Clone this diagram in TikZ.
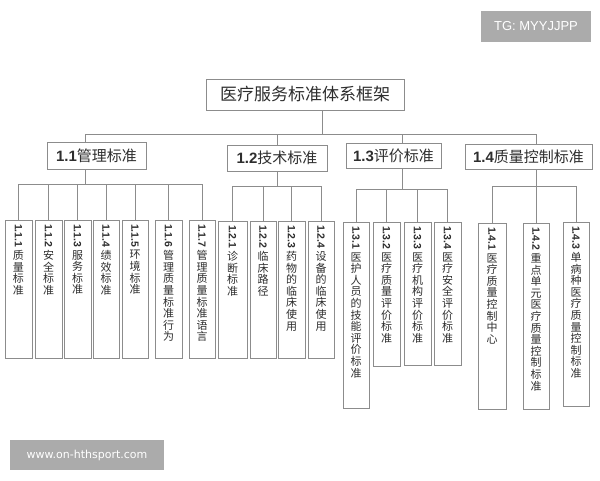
\documentclass[tikz,border=0pt]{standalone}
\usepackage{fontspec}
\usepackage{graphicx}
\setmainfont{Liberation Sans}
\newfontfamily\cjk{Noto Sans CJK SC}
\newfontfamily\wmfont{DejaVu Sans}
\definecolor{txt}{HTML}{2E2E2E}
\definecolor{ln}{HTML}{8C8C8C}
\definecolor{wmgray}{HTML}{ABABAB}
\tikzset{
  conn/.style={draw=ln, line width=0.9pt},
  titlebox/.style={draw=ln, line width=0.9pt, fill=white, text=txt, inner sep=0pt, font=\cjk\fontsize{17}{17}\selectfont},
  midbox/.style={draw=ln, line width=0.9pt, fill=white, text=txt, inner sep=0pt, font=\fontsize{15}{15}\selectfont},
  leafbox/.style={draw=ln, line width=0.9pt, fill=white, text=txt, inner sep=0pt},
  wmbox/.style={fill=wmgray, text=white, inner sep=0pt}
}
\newcommand\leaffont{\fontsize{11}{11.6}\selectfont}
\newcommand\leafnode[7]{%
  \pgfmathsetmacro\lw{#3-#2}\pgfmathsetmacro\lh{#5-#4}%
  \pgfmathsetmacro\lx{(#2+#3)/2}\pgfmathsetmacro\ly{(#4+#5)/2}%
  \node[leafbox] (#1) at (\lx,\ly) {\parbox[c][\lh pt][t]{\lw pt}{\centering\leaffont
    \rule{0pt}{4pt}\rotatebox{-90}{\fontsize{10.5}{11}\selectfont\bfseries #6}\par\vspace{2pt}\cjk #7\par}};}
\begin{document}
\begin{tikzpicture}[x=1pt,y=-1pt]
\useasboundingbox (0,0) rectangle (600,480);
\fill[white] (0,0) rectangle (600,480);
% watermarks
\node[wmbox, minimum width=110pt, minimum height=31pt, font=\fontsize{13}{13}\selectfont] (tg) at (536,26) {TG: MYYJJPP};
\node[wmbox, minimum width=154pt, minimum height=30pt, font=\wmfont\fontsize{11}{11}\selectfont] (url) at (87,455) {www.on-hthsport.com};
% title
\node[titlebox, minimum width=198pt, minimum height=31pt] (root) at (305,94.5) {医疗服务标准体系框架};
% level 2
\node[midbox, minimum width=99pt, minimum height=27pt] (m1) at (96.5,155.5) {\bfseries 1.1\cjk\mdseries 管理标准};
\node[midbox, minimum width=100pt, minimum height=26pt] (m2) at (277,158) {\bfseries 1.2\cjk\mdseries 技术标准};
\node[midbox, minimum width=95pt, minimum height=25pt] (m3) at (393.5,155.5) {\bfseries 1.3\cjk\mdseries 评价标准};
\node[midbox, minimum width=127pt, minimum height=25pt] (m4) at (528.5,156.5) {\bfseries 1.4\cjk\mdseries 质量控制标准};
% leaves
\leafnode{a1}{5}{32}{220}{358}{1.1.1}{质\\量\\标\\准}
\leafnode{a2}{35}{62}{220}{358}{1.1.2}{安\\全\\标\\准}
\leafnode{a3}{64}{91}{220}{358}{1.1.3}{服\\务\\标\\准}
\leafnode{a4}{93}{119}{220}{358}{1.1.4}{绩\\效\\标\\准}
\leafnode{a5}{122}{148}{220}{358}{1.1.5}{环\\境\\标\\准}
\leafnode{a6}{155}{182}{220}{358}{1.1.6}{管\\理\\质\\量\\标\\准\\行\\为}
\leafnode{a7}{189}{215}{220}{358}{1.1.7}{管\\理\\质\\量\\标\\准\\语\\言}
\leafnode{b1}{218}{247}{221}{358}{1.2.1}{诊\\断\\标\\准}
\leafnode{b2}{250}{276}{221}{358}{1.2.2}{临\\床\\路\\径}
\leafnode{b3}{278}{305}{221}{358}{1.2.3}{药\\物\\的\\临\\床\\使\\用}
\leafnode{b4}{308}{334}{221}{358}{1.2.4}{设\\备\\的\\临\\床\\使\\用}
\leafnode{c1}{343}{369}{222}{408}{1.3.1}{医\\护\\人\\员\\的\\技\\能\\评\\价\\标\\准}
\leafnode{c2}{373}{400}{222}{366}{1.3.2}{医\\疗\\质\\量\\评\\价\\标\\准}
\leafnode{c3}{404}{431}{222}{365}{1.3.3}{医\\疗\\机\\构\\评\\价\\标\\准}
\leafnode{c4}{434}{461}{222}{365}{1.3.4}{医\\疗\\安\\全\\评\\价\\标\\准}
\leafnode{d1}{478}{506}{223}{409}{1.4.1}{医\\疗\\质\\量\\控\\制\\中\\心}
\leafnode{d2}{523}{549}{223}{409}{1.4.2}{重\\点\\单\\元\\医\\疗\\质\\量\\控\\制\\标\\准}
\leafnode{d3}{563}{589}{222}{406}{1.4.3}{单\\病\\种\\医\\疗\\质\\量\\控\\制\\标\\准}
% junctions
\coordinate (rj) at (322,134);
\coordinate (s1) at (85,134);
\coordinate (s2) at (277,134);
\coordinate (s3) at (402,134);
\coordinate (s4) at (536,134);
\coordinate (j1) at (85,184);
\coordinate (j2) at (277,186);
\coordinate (j3) at (402,189);
\coordinate (j4) at (536,186);
% connectors
\draw[conn] (root.south -| rj) -- (rj);
\draw[conn] (s1) -- (s4 |- s1);
\draw[conn] (s1) -- (m1.north -| s1);
\draw[conn] (s2) -- (m2.north -| s2);
\draw[conn] (s3) -- (m3.north -| s3);
\draw[conn] (s4) -- (m4.north -| s4);
\draw[conn] (m1.south -| j1) -- (j1);
\draw[conn] (m2.south -| j2) -- (j2);
\draw[conn] (m3.south -| j3) -- (j3);
\draw[conn] (m4.south -| j4) -- (j4);
\draw[conn] (a1.north |- j1) -- (a7.north |- j1);
\draw[conn] (b1.north |- j2) -- (b4.north |- j2);
\draw[conn] (c1.north |- j3) -- (c4.north |- j3);
\draw[conn] (d1.north |- j4) -- (d3.north |- j4);
\foreach \n in {a1,a2,a3,a4,a5,a6,a7}{\draw[conn] (\n.north |- j1) -- (\n.north);}
\foreach \n in {b1,b2,b3,b4}{\draw[conn] (\n.north |- j2) -- (\n.north);}
\foreach \n in {c1,c2,c3,c4}{\draw[conn] (\n.north |- j3) -- (\n.north);}
\foreach \n in {d1,d2,d3}{\draw[conn] (\n.north |- j4) -- (\n.north);}
\end{tikzpicture}
\end{document}
